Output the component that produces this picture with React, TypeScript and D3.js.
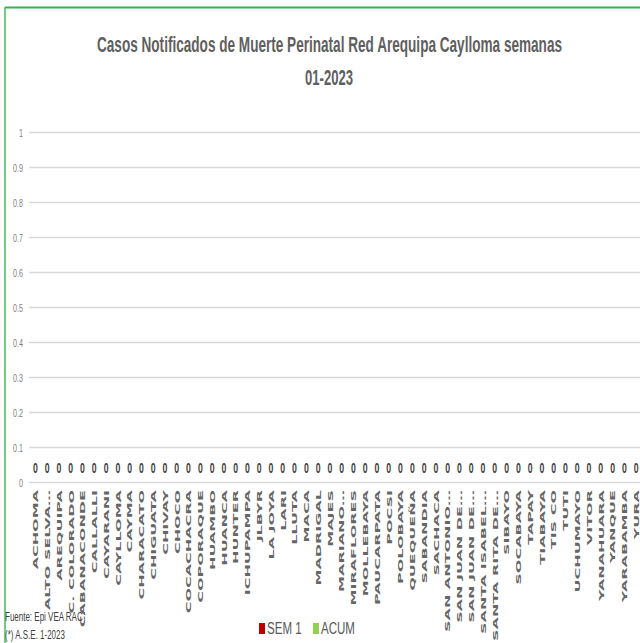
import React from "react";
import * as d3 from "d3";

const categories: string[] = [
  "ACHOMA", "ALTO SELVA…", "AREQUIPA", "C. COLORADO", "CABANACONDE", "CALLALLI",
  "CAYARANI", "CAYLLOMA", "CAYMA", "CHARACATO", "CHIGUATA", "CHIVAY", "CHOCO",
  "COCACHACRA", "COPORAQUE", "HUAMBO", "HUANCA", "HUNTER", "ICHUPAMPA", "JLBYR",
  "LA JOYA", "LARI", "LLUTA", "MACA", "MADRIGAL", "MAJES", "MARIANO…", "MIRAFLORES",
  "MOLLEBAYA", "PAUCARPATA", "POCSI", "POLOBAYA", "QUEQUEÑA", "SABANDIA", "SACHACA",
  "SAN ANTONIO…", "SAN JUAN DE…", "SAN JUAN DE…", "SANTA ISABEL…", "SANTA RITA DE…",
  "SIBAYO", "SOCABAYA", "TAPAY", "TIABAYA", "TIS CO", "TUTI", "UCHUMAYO", "VITOR",
  "YANAHUARA", "YANQUE", "YARABAMBA", "YURA",
];
const sem1: number[] = categories.map(() => 0);
const acum: number[] = categories.map(() => 0);
const yTicks: number[] = [0, 0.1, 0.2, 0.3, 0.4, 0.5, 0.6, 0.7, 0.8, 0.9, 1];
const seriesNames: string[] = ["SEM 1", "ACUM"];
const seriesColors: string[] = ["#c00000", "#92d050"];
const titleLines: string[] = [
  "Casos Notificados de Muerte Perinatal Red Arequipa Caylloma semanas",
  "01-2023",
];
const footerLines: string[] = ["Fuente: Epi VEA RAC", "(*) A.S.E. 1-2023"];

const W = 640;
const H = 643;

export default function App() {
  const x = d3.scaleBand<number>().domain(d3.range(categories.length)).range([29.5, 642]).paddingInner(0.2).paddingOuter(0.1);
  const xc = d3.scaleBand<number>().domain(d3.range(categories.length)).range([29.5, 642]);
  const y = d3.scaleLinear().domain([0, 1]).range([482.5, 132.5]);
  const sub = d3.scaleBand<number>().domain([0, 1]).range([0, x.bandwidth()]);
  const font = "'Liberation Sans', Arial, sans-serif";
  const series = [sem1, acum];

  return (
    <svg width={W} height={H} style={{ position: "absolute", left: 0, top: 0, background: "#fff" }}>
      <rect x={0} y={0} width={W} height={H} fill="#fff" />
      {/* chart border */}
      <line x1={5} x2={W} y1={7.5} y2={7.5} stroke="#2fb553" strokeWidth={2} />
      <line x1={5} x2={5} y1={7} y2={H} stroke="#3dbb5c" strokeWidth={1.5} />

      {/* title */}
      <text x={329.5} y={52} textAnchor="middle" fontFamily={font} fontSize={22} fontWeight="bold" fill="#5f5f5f"
        textLength={465} lengthAdjust="spacingAndGlyphs">{titleLines[0]}</text>
      <text x={329} y={85} textAnchor="middle" fontFamily={font} fontSize={22} fontWeight="bold" fill="#5f5f5f"
        textLength={48} lengthAdjust="spacingAndGlyphs">{titleLines[1]}</text>

      {/* gridlines */}
      {yTicks.map((t) => (
        <g key={t}>
          <line x1={29} x2={W} y1={y(t)} y2={y(t)} stroke="#d9d9d9" strokeWidth={1.3} />
          <text transform={`translate(23,${y(t) + 4}) scale(0.65,1)`} textAnchor="end"
            fontFamily={font} fontSize={11} fill="#7f7f7f">{t}</text>
        </g>
      ))}

      {/* bars */}
      {series.map((vals, s) => (
        <g key={s}>
          {vals.map((v, i) => (
            <rect key={i} x={(x(i) as number) + (sub(s) as number)} width={sub.bandwidth()}
              y={y(v)} height={y(0) - y(v)} fill={seriesColors[s]} />
          ))}
        </g>
      ))}

      {/* data labels */}
      {acum.map((v, i) => (
        <text key={i} transform={`translate(${(xc(i) as number) + xc.bandwidth() / 2},${y(v) - 9.5}) scale(0.62,1)`}
          textAnchor="middle" fontFamily={font} fontSize={14} fontWeight="bold" fill="#404040">{v}</text>
      ))}

      {/* category labels */}
      {categories.map((c, i) => (
        <text key={i}
          transform={`translate(${(xc(i) as number) + xc.bandwidth() / 2},490) rotate(-90) scale(2.05,1)`}
          textAnchor="end" dy="0.36em" fontFamily="'DejaVu Sans', Verdana, sans-serif" fontSize={7.8}
          fontWeight="bold" fill="#666666">{c}</text>
      ))}

      {/* legend */}
      {seriesNames.map((n, s) => {
        const lx = [259, 313][s];
        return (
          <g key={n}>
            <rect x={lx} y={623} width={6} height={11} fill={seriesColors[s]} />
            <text transform={`translate(${lx + 8},634) scale(0.68,1)`} fontFamily={font} fontSize={17} fill="#595959">{n}</text>
          </g>
        );
      })}

      {/* footer */}
      {footerLines.map((f, i) => (
        <text key={i} transform={`translate(5,${[621, 639][i]}) scale(0.615,1)`} fontFamily={font}
          fontSize={13} fill="#404040">{f}</text>
      ))}
    </svg>
  );
}
